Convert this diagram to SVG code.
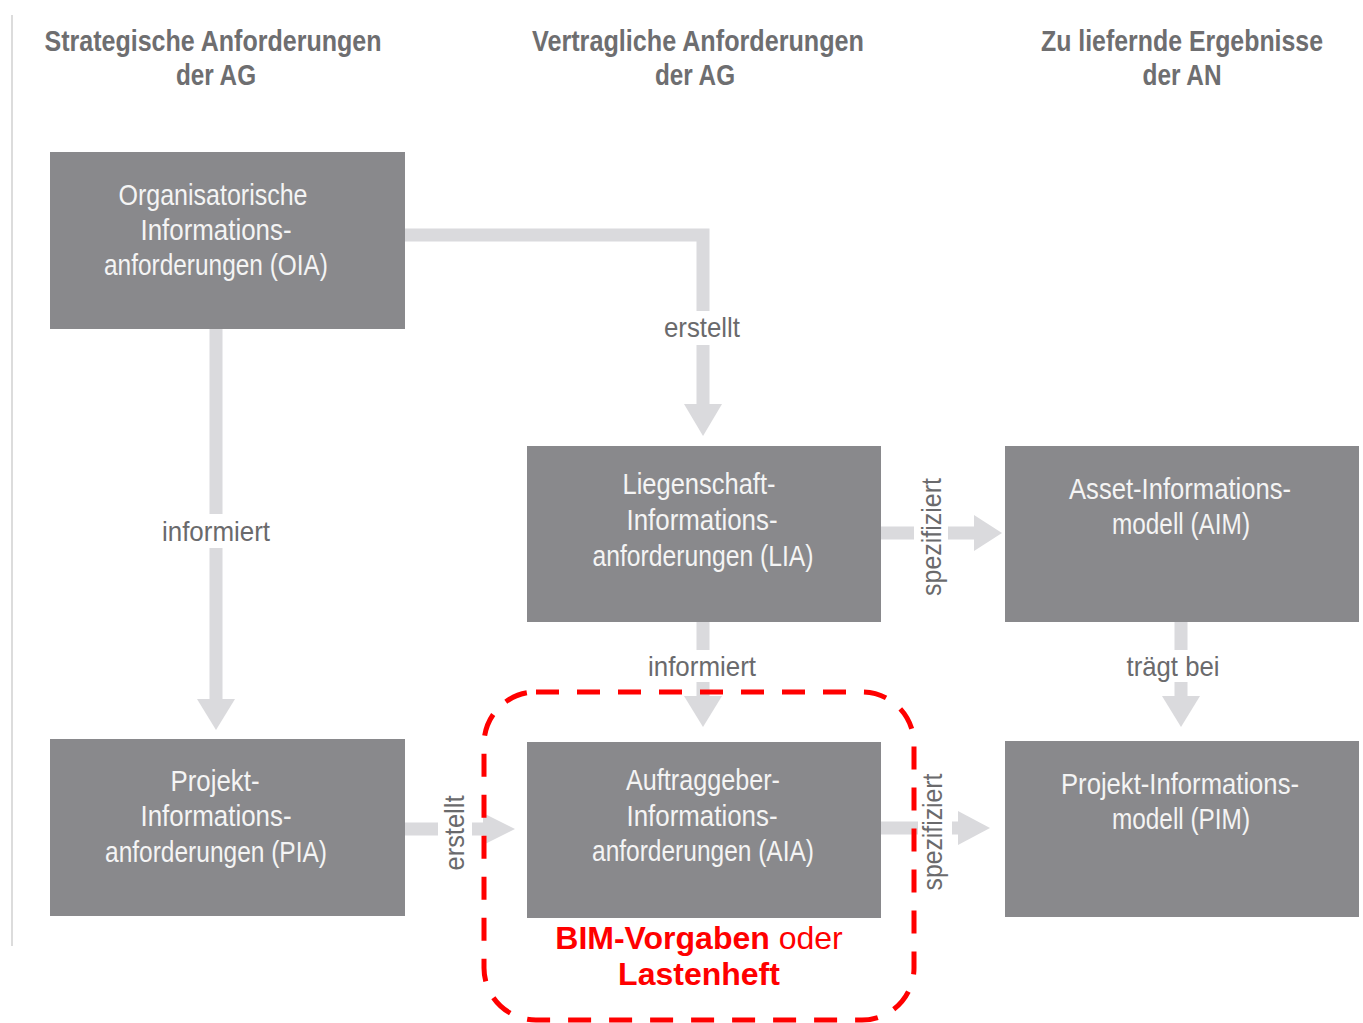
<svg xmlns="http://www.w3.org/2000/svg" width="1363" height="1023" viewBox="0 0 1363 1023">
<style>
.hdr{font-family:"Liberation Sans",Arial,sans-serif;font-size:29px;font-weight:bold;fill:#6e6e70;text-anchor:middle}
.box{fill:#89898c}
.bt{font-family:"Liberation Sans",Arial,sans-serif;font-size:29px;fill:#f4f4f4;text-anchor:middle}
.shaft{stroke:#dadadd;stroke-width:13;fill:none}
.head{fill:#dadadd}
.lbl{font-family:"Liberation Sans",Arial,sans-serif;font-size:28px;fill:#6a6a6c;text-anchor:middle}
.red{font-family:"Liberation Sans",Arial,sans-serif;font-size:32px;fill:#ff0000;text-anchor:middle}
</style>
<rect width="1363" height="1023" fill="#ffffff"/>
<line x1="12" y1="15" x2="12" y2="946" stroke="#d0d0d0" stroke-width="1.5"/>
<g id="headers">
<text class="hdr" x="213" y="51" textLength="337" lengthAdjust="spacingAndGlyphs">Strategische Anforderungen</text>
<text class="hdr" x="216" y="85" textLength="80" lengthAdjust="spacingAndGlyphs">der AG</text>
<text class="hdr" x="698" y="51" textLength="332" lengthAdjust="spacingAndGlyphs">Vertragliche Anforderungen</text>
<text class="hdr" x="695" y="85" textLength="80" lengthAdjust="spacingAndGlyphs">der AG</text>
<text class="hdr" x="1182" y="51" textLength="282" lengthAdjust="spacingAndGlyphs">Zu liefernde Ergebnisse</text>
<text class="hdr" x="1182" y="85" textLength="79" lengthAdjust="spacingAndGlyphs">der AN</text>
</g>
<g id="connectors">
<path class="shaft" d="M404 235 H703 V405"/>
<polygon class="head" points="684,404 722,404 703,436"/>
<rect x="660" y="311" width="86" height="34" fill="#fff"/>
<text class="lbl" x="702" y="337" textLength="76" lengthAdjust="spacingAndGlyphs">erstellt</text>

<path class="shaft" d="M216 328 V700"/>
<polygon class="head" points="197,699 235,699 216,730"/>
<rect x="158" y="514" width="116" height="34" fill="#fff"/>
<text class="lbl" x="216" y="541" textLength="108" lengthAdjust="spacingAndGlyphs">informiert</text>

<path class="shaft" d="M880 533 H975"/>
<polygon class="head" points="974,515 974,551 1002,533"/>
<rect x="914" y="474" width="34" height="126" fill="#fff"/>
<text class="lbl" transform="translate(941 537) rotate(-90)" textLength="118" lengthAdjust="spacingAndGlyphs">spezifiziert</text>

<path class="shaft" d="M703 621 V697"/>
<polygon class="head" points="684,696 722,696 703,727"/>
<rect x="644" y="650" width="116" height="32" fill="#fff"/>
<text class="lbl" x="702" y="676" textLength="108" lengthAdjust="spacingAndGlyphs">informiert</text>

<path class="shaft" d="M1181 621 V697"/>
<polygon class="head" points="1162,696 1200,696 1181,727"/>
<rect x="1122" y="650" width="104" height="32" fill="#fff"/>
<text class="lbl" x="1173" y="676" textLength="93" lengthAdjust="spacingAndGlyphs">trägt bei</text>

<path class="shaft" d="M404 829 H484"/>
<polygon class="head" points="483,813 483,845 515,829"/>
<rect x="438" y="792" width="34" height="82" fill="#fff"/>
<text class="lbl" transform="translate(464 833) rotate(-90)" textLength="75" lengthAdjust="spacingAndGlyphs">erstellt</text>

<path class="shaft" d="M880 828 H960"/>
<polygon class="head" points="958,811 958,845 990,828"/>
<rect x="918" y="768" width="34" height="126" fill="#fff"/>
<text class="lbl" transform="translate(942 832) rotate(-90)" textLength="117" lengthAdjust="spacingAndGlyphs">spezifiziert</text>
</g>
<g id="OIA">
<rect class="box" x="50" y="152" width="355" height="177"/>
<text class="bt" x="213" y="205" textLength="189" lengthAdjust="spacingAndGlyphs">Organisatorische</text>
<text class="bt" x="216" y="240" textLength="151" lengthAdjust="spacingAndGlyphs">Informations-</text>
<text class="bt" x="216" y="275" textLength="224" lengthAdjust="spacingAndGlyphs">anforderungen (OIA)</text>
</g>
<g id="LIA">
<rect class="box" x="527" y="446" width="354" height="176"/>
<text class="bt" x="699" y="494" textLength="153" lengthAdjust="spacingAndGlyphs">Liegenschaft-</text>
<text class="bt" x="702" y="530" textLength="151" lengthAdjust="spacingAndGlyphs">Informations-</text>
<text class="bt" x="703" y="566" textLength="221" lengthAdjust="spacingAndGlyphs">anforderungen (LIA)</text>
</g>
<g id="AIM">
<rect class="box" x="1005" y="446" width="354" height="176"/>
<text class="bt" x="1180" y="499" textLength="222" lengthAdjust="spacingAndGlyphs">Asset-Informations-</text>
<text class="bt" x="1181" y="534" textLength="138" lengthAdjust="spacingAndGlyphs">modell (AIM)</text>
</g>
<g id="PIA">
<rect class="box" x="50" y="739" width="355" height="177"/>
<text class="bt" x="215" y="791" textLength="89" lengthAdjust="spacingAndGlyphs">Projekt-</text>
<text class="bt" x="216" y="826" textLength="151" lengthAdjust="spacingAndGlyphs">Informations-</text>
<text class="bt" x="216" y="862" textLength="222" lengthAdjust="spacingAndGlyphs">anforderungen (PIA)</text>
</g>
<g id="AIA">
<rect class="box" x="527" y="742" width="354" height="176"/>
<text class="bt" x="703" y="790" textLength="154" lengthAdjust="spacingAndGlyphs">Auftraggeber-</text>
<text class="bt" x="702" y="826" textLength="151" lengthAdjust="spacingAndGlyphs">Informations-</text>
<text class="bt" x="703" y="861" textLength="222" lengthAdjust="spacingAndGlyphs">anforderungen (AIA)</text>
</g>
<g id="PIM">
<rect class="box" x="1005" y="741" width="354" height="176"/>
<text class="bt" x="1180" y="794" textLength="238" lengthAdjust="spacingAndGlyphs">Projekt-Informations-</text>
<text class="bt" x="1181" y="829" textLength="138" lengthAdjust="spacingAndGlyphs">modell (PIM)</text>
</g>
<g id="highlight">
<rect x="484" y="692" width="430" height="328" rx="52" ry="52" fill="none" stroke="#ff0000" stroke-width="5" stroke-dasharray="23 18"/>
<text class="red" x="699" y="949"><tspan font-weight="bold">BIM-Vorgaben</tspan> oder</text>
<text class="red" x="699" y="985" font-weight="bold">Lastenheft</text>
</g>
</svg>
